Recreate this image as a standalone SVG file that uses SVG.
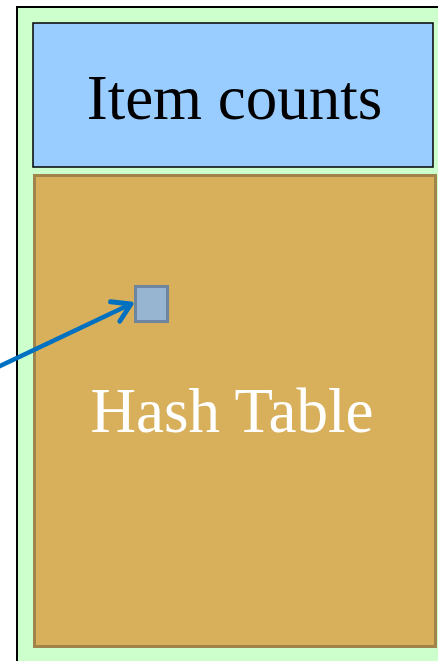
<svg xmlns="http://www.w3.org/2000/svg" width="438" height="661" viewBox="0 0 438 661">
<style>
.t{font-family:"Liberation Serif","Times New Roman",serif;font-size:63px;text-anchor:middle}
</style>
<defs>
<marker id="ah" viewBox="0 0 10 10" refX="8" refY="5" markerWidth="6" markerHeight="6" orient="auto" markerUnits="strokeWidth">
<polyline points="1.5,1 8,5 1.5,9" fill="none" stroke="#0070c0" stroke-width="1.8" stroke-linecap="round" stroke-linejoin="round"/>
</marker>
</defs>
<g id="container"><rect x="17" y="7" width="430" height="670" fill="#ccffcc" stroke="#000" stroke-width="2"/></g>
<g id="item-counts"><rect x="33" y="23" width="400" height="144" fill="#99ccff" stroke="#000" stroke-width="1.5"/><text class="t" x="234.5" y="119" fill="#000">Item counts</text></g>
<g id="hash-table"><rect x="34.5" y="175.5" width="401" height="471" fill="#d8b05c" stroke="#a0844a" stroke-width="3"/><text class="t" x="232" y="432" fill="#fff">Hash Table</text></g>
<g id="slot"><rect x="135.5" y="286.5" width="32" height="35" fill="#97b4d0" stroke="#6e85a0" stroke-width="3"/></g>
<g id="connectors"><line x1="-2" y1="367" x2="131" y2="304" stroke="#0070c0" stroke-width="4.5" marker-end="url(#ah)"/></g>
</svg>
